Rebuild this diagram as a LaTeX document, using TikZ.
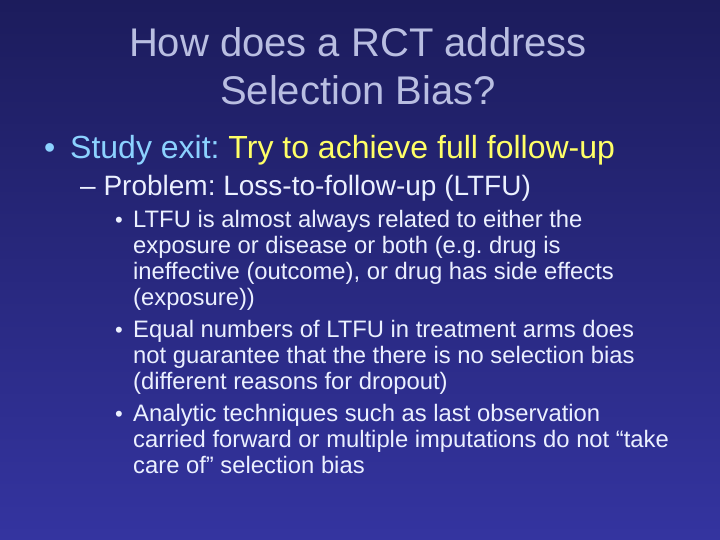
\documentclass[tikz,border=0pt]{standalone}
\usepackage{fontspec}
\setmainfont{Liberation Sans}
\frenchspacing
\definecolor{bgtop}{RGB}{28,28,92}
\definecolor{bgbot}{RGB}{52,52,160}
\definecolor{titlecol}{RGB}{185,190,225}
\definecolor{keycol}{RGB}{140,210,255}
\definecolor{hilite}{RGB}{255,255,102}
\definecolor{bodycol}{RGB}{235,240,255}
\tikzset{
  line/.style={anchor=base west, inner sep=0pt, text=bodycol, font=\fontsize{23.8}{26}\selectfont},
  mark3/.style={anchor=base west, inner sep=0pt, text=bodycol, font=\fontsize{22}{26}\selectfont},
}
\begin{document}
\begin{tikzpicture}[x=1pt,y=-1pt]
    % Background
    \shade[top color=bgtop, bottom color=bgbot] (0,0) rectangle (720,540);
    \useasboundingbox (0,0) rectangle (720,540);

    % Title
    \node[anchor=base, inner sep=0pt, text=titlecol, font=\fontsize{40}{48}\selectfont] (title1) at (358,57) {How does a RCT address};
    \node[anchor=base, inner sep=0pt, text=titlecol, font=\fontsize{40}{48}\selectfont] (title2) at (358,105) {Selection Bias?};

    % Level 1
    \node[anchor=base west, inner sep=0pt, text=keycol, font=\fontsize{32}{38}\selectfont] (b1) at (44,159) {\textbullet};
    \node[anchor=base west, inner sep=0pt, font=\fontsize{32}{38}\selectfont] (l1) at (70,159)
        {\textcolor{keycol}{Study exit:} \textcolor{hilite}{Try to achieve full follow-up}};

    % Level 2
    \node[anchor=base west, inner sep=0pt, text=bodycol, font=\fontsize{28}{33}\selectfont] (l2) at (80,196)
        {– Problem: Loss-to-follow-up (LTFU)};

    % Level 3
    \foreach \y/\t in {227/LTFU is almost always related to either the,
        253/exposure or disease or both (e.g. drug is,
        279/ineffective (outcome){,} or drug has side effects,
        305/(exposure)),
        337/Equal numbers of LTFU in treatment arms does,
        363/not guarantee that the there is no selection bias,
        389/(different reasons for dropout),
        421/Analytic techniques such as last observation,
        447/carried forward or multiple imputations do not “take,
        473/care of” selection bias}
        \node[line] at (133,\y) {\t};
    \foreach \y in {227,337,421}
        \node[mark3] at (115,\y) {\textbullet};
\end{tikzpicture}
\end{document}
